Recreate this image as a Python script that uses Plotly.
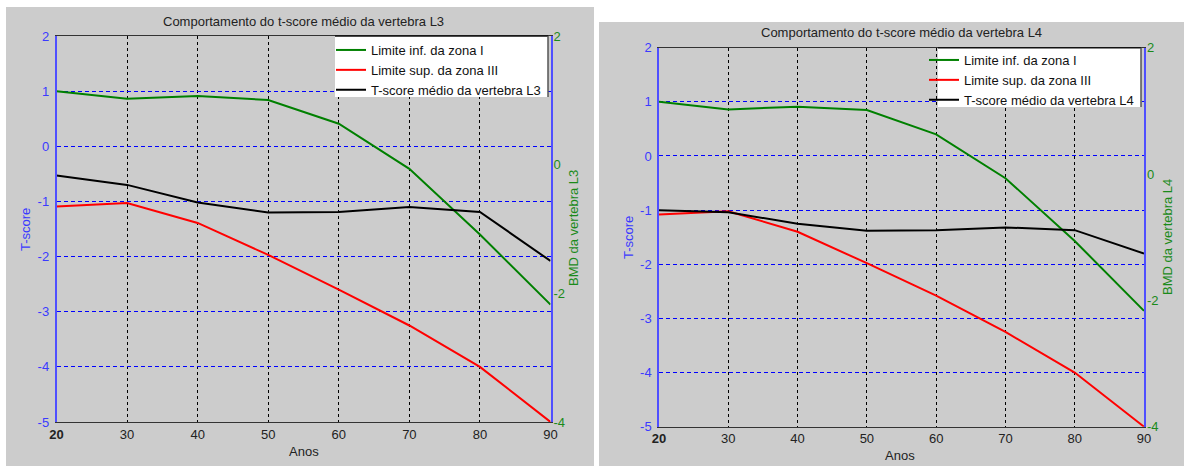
import plotly.graph_objects as go

W, H = 1184, 466

anos = [20, 30, 40, 50, 60, 70, 80, 90]

# Vertebra L3 panel
l3_lim_inf_zona1 = [1.0, 0.86, 0.91, 0.84, 0.41, -0.41, -1.60, -2.87]
l3_lim_sup_zona3 = [-1.09, -1.03, -1.39, -1.97, -2.60, -3.25, -4.0, -5.0]
l3_tscore_medio = [-0.53, -0.70, -1.02, -1.20, -1.19, -1.10, -1.19, -2.08]

# Vertebra L4 panel
l4_lim_inf_zona1 = [1.0, 0.86, 0.91, 0.85, 0.40, -0.41, -1.57, -2.86]
l4_lim_sup_zona3 = [-1.08, -1.02, -1.40, -1.98, -2.58, -3.25, -4.0, -5.0]
l4_tscore_medio = [-1.00, -1.04, -1.25, -1.38, -1.37, -1.32, -1.37, -1.80]

left_ticks = [2, 1, 0, -1, -2, -3, -4, -5]
left_ticktext = ["2", "1", "0", "-1", "-2", "-3", "-4", "-5"]
right_ticks = [2, 0, -2, -4]
right_ticktext = ["2", "0", "-2", "-4"]
x_ticks = [20, 30, 40, 50, 60, 70, 80, 90]
x_ticktext = ["<b>20</b>", "30", "40", "50", "60", "70", "80", "90"]

series_names = ["Limite inf. da zona I", "Limite sup. da zona III"]
colors = ["#008000", "#ff0000", "#000000"]

FONT = "Liberation Sans, Arial, sans-serif"
BLUE_AX = "#4f4fff"
BLUE_TXT = "#3a3aff"
GREEN_TXT = "#1a8a1a"
DARK = "#333333"


def px_x(p):
    return p / W


def px_y(p):
    return (H - p) / H


fig = go.Figure()

panels = [
    dict(x="x", y="y", y2="y2", legend="legend", data=[l3_lim_inf_zona1, l3_lim_sup_zona3, l3_tscore_medio],
         last="T-score médio da vertebra L3"),
    dict(x="x2", y="y3", y2="y4", legend="legend2", data=[l4_lim_inf_zona1, l4_lim_sup_zona3, l4_tscore_medio],
         last="T-score médio da vertebra L4"),
]
for p in panels:
    names = series_names + [p["last"]]
    for vals, nm, c in zip(p["data"], names, colors):
        fig.add_trace(go.Scatter(x=anos, y=vals, mode="lines", name=nm,
                                 line=dict(color=c, width=2),
                                 xaxis=p["x"], yaxis=p["y"], legend=p["legend"]))
    # empty trace so the secondary (BMD) axis is drawn
    fig.add_trace(go.Scatter(x=anos, y=[None] * len(anos), mode="lines", showlegend=False,
                             hoverinfo="skip", xaxis=p["x"], yaxis=p["y2"]))

# geometry (pixels)
L = dict(x0=56.5, x1=550.5, y0=36, y1=422)
R = dict(x0=659, x1=1144, y0=47.7, y1=426.7)
LEG_L = dict(x0=335, x1=548, y0=36, y1=97)
LEG_R = dict(x0=938, x1=1141, y0=47.7, y1=107)


def xax(geom, anchor):
    return dict(domain=[px_x(geom["x0"]), px_x(geom["x1"])], anchor=anchor,
                range=[20, 90], tickvals=x_ticks, ticktext=x_ticktext,
                showline=True, linecolor=DARK, linewidth=1, mirror=True,
                showgrid=True, gridcolor="#000000", gridwidth=1, griddash="3px,3px",
                ticks="", zeroline=False, automargin=False,
                tickfont=dict(family=FONT, size=13, color="#222222"))


def yax(geom, anchor):
    return dict(domain=[px_y(geom["y1"]), px_y(geom["y0"])], anchor=anchor,
                range=[-5, 2], tickvals=left_ticks, ticktext=left_ticktext,
                showline=True, linecolor=BLUE_AX, linewidth=1.5, mirror=True,
                showgrid=True, gridcolor="#0000ff", gridwidth=1, griddash="4px,3px",
                ticks="", zeroline=False, ticklabelstandoff=3, automargin=False,
                tickfont=dict(family=FONT, size=13, color=BLUE_TXT))


def y2ax(over, anchor):
    return dict(overlaying=over, anchor=anchor, side="right",
                range=[-4, 2], tickvals=right_ticks, ticktext=right_ticktext,
                showline=False, showgrid=False, zeroline=False, ticks="",
                ticklabelstandoff=2, automargin=False,
                tickfont=dict(family=FONT, size=13, color=GREEN_TXT))


def leg(box, first_row):
    # legend box itself transparent; white backing drawn as a shape
    return dict(x=px_x(box["x1"] - 2), xanchor="right", y=px_y(first_row - 15), yanchor="top",
                bgcolor="rgba(0,0,0,0)", borderwidth=0, tracegroupgap=0,
                font=dict(family=FONT, size=13, color="#111111"))


shapes = [
    dict(type="rect", xref="paper", yref="paper", x0=px_x(6), x1=px_x(594), y0=0, y1=px_y(7),
         fillcolor="#cccccc", line=dict(width=0), layer="below"),
    dict(type="rect", xref="paper", yref="paper", x0=px_x(599), x1=1, y0=0, y1=px_y(22),
         fillcolor="#cccccc", line=dict(width=0), layer="below"),
]
for box in (LEG_L, LEG_R):
    shapes.append(dict(type="rect", xref="paper", yref="paper",
                       x0=px_x(box["x0"]), x1=px_x(box["x1"]), y0=px_y(box["y1"]), y1=px_y(box["y0"]),
                       fillcolor="white", line=dict(width=0), layer="above"))
    shapes.append(dict(type="line", xref="paper", yref="paper",
                       x0=px_x(box["x0"]), x1=px_x(box["x1"]), y0=px_y(box["y0"]), y1=px_y(box["y0"]),
                       line=dict(color="#111111", width=1.5), layer="above"))
    shapes.append(dict(type="line", xref="paper", yref="paper",
                       x0=px_x(box["x1"]), x1=px_x(box["x1"]), y0=px_y(box["y1"]), y1=px_y(box["y0"]),
                       line=dict(color="#555555", width=1.5), layer="above"))

annotations = [
    dict(text="Comportamento do t-score médio da vertebra L3", x=px_x(303.5), y=px_y(21)),
    dict(text="Comportamento do t-score médio da vertebra L4", x=px_x(901.5), y=px_y(32)),
    dict(text="Anos", x=px_x(303.5), y=px_y(451)),
    dict(text="Anos", x=px_x(900), y=px_y(455)),
    dict(text="T-score", x=px_x(25), y=px_y(230), textangle=-90, font_color=BLUE_TXT),
    dict(text="T-score", x=px_x(628), y=px_y(238), textangle=-90, font_color=BLUE_TXT),
    dict(text="BMD da vertebra L3", x=px_x(573), y=px_y(228), textangle=-90, font_color=GREEN_TXT),
    dict(text="BMD da vertebra L4", x=px_x(1168), y=px_y(237), textangle=-90, font_color=GREEN_TXT),
]
ann = []
for a in annotations:
    col = a.pop("font_color", "#222222")
    a.update(xref="paper", yref="paper", xanchor="center", yanchor="middle", showarrow=False,
             font=dict(family=FONT, size=13, color=col))
    ann.append(a)

fig.update_layout(
    width=W, height=H,
    margin=dict(l=0, r=0, t=0, b=0, pad=0, autoexpand=False),
    paper_bgcolor="white", plot_bgcolor="white",
    showlegend=True,
    xaxis=xax(L, "y"),
    yaxis=yax(L, "x"),
    yaxis2=y2ax("y", "x"),
    xaxis2=xax(R, "y3"),
    yaxis3=yax(R, "x2"),
    yaxis4=y2ax("y3", "x2"),
    legend=leg(LEG_L, 50),
    legend2=leg(LEG_R, 60),
    shapes=shapes,
    annotations=ann,
)

fig.write_html("out.html")
